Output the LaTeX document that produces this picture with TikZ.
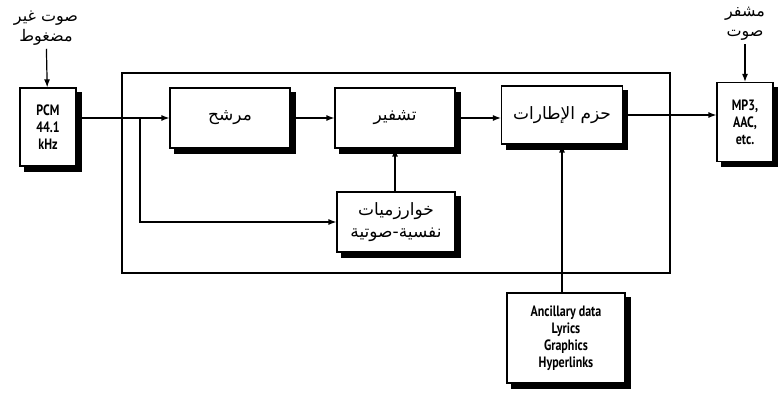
\documentclass[tikz,border=0pt]{standalone}
\usepackage{fontspec}
\setmainfont{PT Sans}
\newfontfamily\arabicfont[Script=Arabic]{DejaVu Sans}
\newfontfamily\narrowfont[FakeStretch=0.8]{PT Sans}
\usetikzlibrary{positioning,calc,arrows.meta,backgrounds}
% right-to-left text, switched on only inside the box labels
\newcommand{\ar}[1]{{\TeXXeTstate=1\arabicfont\beginR #1\endR}}
\tikzset{
  blk/.style   ={draw, line width=1.2pt, fill=white, align=center, inner sep=2pt},
  % small boxes with narrow latin text
  io/.style    ={blk, font=\narrowfont\fontsize{15}{17}\selectfont\bfseries},
  stage/.style ={blk, font=\fontsize{17}{22}\selectfont},
  frame/.style ={draw, line width=1.2pt, minimum width=548pt, minimum height=200pt},
  % shadow as a thick L along right and bottom edge
  boxshadow/.style={line width=5pt, line join=miter},
  flow/.style  ={-{Latex[length=8pt,width=6pt]}, line width=1.2pt},
  lbl/.style   ={align=center, font=\fontsize{16}{20}\selectfont},
}
\begin{document}
\begin{tikzpicture}[x=1pt,y=-1pt]
    \useasboundingbox (0,0) rectangle (778,406);
    % outer encoder frame
    \node[frame] (enc frame) at (396,173) {};
    % input and output
    \node[lbl] (inlbl)  at (46,28)  {\ar{صوت غير}\\\ar{مضغوط}};
    \node[io, minimum width=56pt, minimum height=78pt] (pcm) at (48,127) {PCM\\44.1\\kHz};
    \node[lbl] (outlbl) at (745,24) {\ar{مشفر}\\\ar{صوت}};
    \node[io, minimum width=56pt, minimum height=79pt] (mp3) at (745,122) {MP3,\\AAC,\\etc.};
    % processing stages
    \node[stage, minimum width=120pt, minimum height=60pt] (filt) at (230,118) {\ar{مرشح}};
    \node[stage, minimum width=120pt, minimum height=60pt] (enc)  at (395,118) {\ar{تشفير}};
    \node[stage, minimum width=118pt, minimum height=60pt, inner sep=1pt] (psy)  at (396,222)
         {\ar{خوارزميات}\\\ar{نفسية-صوتية}};
    \node[stage, minimum width=121pt, minimum height=58pt] (pack) at (562,115) {\ar{حزم الإطارات}};
    \node[io, minimum width=118pt, minimum height=90pt] (anc) at (566,338)
         {Ancillary data\\Lyrics\\Graphics\\Hyperlinks};
    % drop shadows under the boxes
    \begin{scope}[on background layer]
      \foreach \n in {pcm,mp3,filt,enc,psy,pack,anc}
        \draw[boxshadow] ($(\n.north east)+(2.5,5)$) |- ($(\n.south west)+(5,2.5)$);
    \end{scope}
    % flows
    \coordinate (split) at (140,118);
    \draw[flow] (inlbl) -- (pcm);
    \draw[flow] (pcm.east |- filt.west) -- (filt.west);
    \draw[flow] (split) |- (psy.west);
    \draw[flow] (filt) -- (enc);
    \draw[flow] (psy.north -| enc) -- (enc.south);
    \draw[flow] (enc.east) -- (enc.east -| pack.west);
    \draw[flow] (pack.east) -- (pack.east -| mp3.west);
    \draw[flow] (outlbl) -- (mp3);
    \draw[flow] (anc.north -| pack) -- (pack.south);
\end{tikzpicture}
\end{document}
